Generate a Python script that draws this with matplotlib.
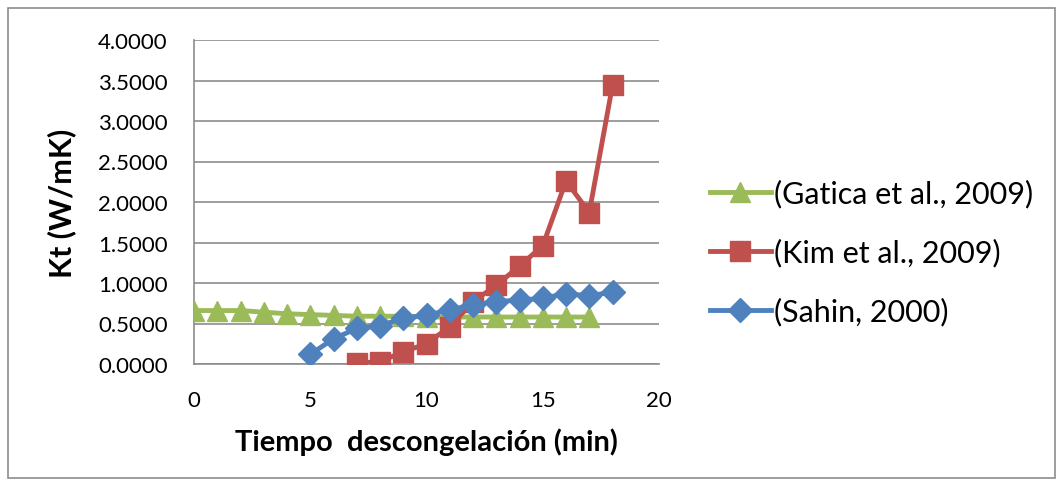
import matplotlib
matplotlib.use("Agg")
import matplotlib.pyplot as plt
from matplotlib.patches import Rectangle

# datos
t_gatica = [0, 1, 2, 3, 4, 5, 6, 7, 8, 9, 10, 11, 12, 13, 14, 15, 16, 17]
kt_gatica = [0.66, 0.66, 0.66, 0.64, 0.62, 0.61, 0.60, 0.59, 0.59, 0.59, 0.58,
             0.58, 0.58, 0.58, 0.58, 0.58, 0.58, 0.58]
t_kim = [7, 8, 9, 10, 11, 12, 13, 14, 15, 16, 17, 18]
kt_kim = [0.01, 0.03, 0.15, 0.25, 0.46, 0.77, 0.97, 1.21, 1.46, 2.26, 1.87, 3.44]
t_sahin = [5, 6, 7, 8, 9, 10, 11, 12, 13, 14, 15, 16, 17, 18]
kt_sahin = [0.12, 0.31, 0.44, 0.47, 0.57, 0.60, 0.67, 0.73, 0.77, 0.79, 0.81,
            0.87, 0.84, 0.89]

labels = ["(Gatica et al., 2009)", "(Kim et al., 2009)", "(Sahin, 2000)"]
x_ticks = [0, 5, 10, 15, 20]
y_ticks = [0.0, 0.5, 1.0, 1.5, 2.0, 2.5, 3.0, 3.5, 4.0]

plt.rcParams["font.family"] = ["Lato", "DejaVu Sans"]

fig = plt.figure(figsize=(10.64, 4.89), dpi=100)
# marco exterior del grafico
fig.patches.append(Rectangle((8 / 1064, 10 / 489), 1047 / 1064, 470 / 489,
                             transform=fig.transFigure, fill=False,
                             edgecolor="#8c8c8c", linewidth=1.2))

ax = fig.add_axes([194 / 1064, 124 / 489, 465 / 1064, 324 / 489])

ax.plot(t_gatica, kt_gatica, color="#9bbb59", linewidth=3.5, marker="^",
        markersize=14, label=labels[0], zorder=3)
ax.plot(t_kim, kt_kim, color="#c0504d", linewidth=3.5, marker="s",
        markersize=14, label=labels[1], zorder=4)
ax.plot(t_sahin, kt_sahin, color="#4f81bd", linewidth=3.5, marker="D",
        markersize=12, label=labels[2], zorder=5)

ax.set_xlim(0, 20)
ax.set_ylim(0, 4)
ax.set_xticks(x_ticks)
ax.set_yticks(y_ticks)
ax.set_yticklabels(["%.4f" % v for v in y_ticks])
ax.tick_params(length=0, labelsize=16)
ax.tick_params(axis="y", pad=19)
ax.tick_params(axis="x", pad=19)
ax.grid(axis="y", color="#8c8c8c", linewidth=1.2)
ax.set_axisbelow(True)
for s in ["top", "right"]:
    ax.spines[s].set_visible(False)
for s in ["left", "bottom"]:
    ax.spines[s].set_color("#8c8c8c")
    ax.spines[s].set_linewidth(1.2)

ax.set_xlabel("Tiempo  descongelación (min)", fontsize=21, fontweight="bold",
              labelpad=12)
ax.set_ylabel("Kt (W/mK)", fontsize=22, fontweight="bold", labelpad=16)

ax.legend(loc="center left", bbox_to_anchor=(1.05, 0.345), frameon=False,
          fontsize=22, handlelength=2.0, handletextpad=0.1, labelspacing=1.0)

fig.savefig("out.png", dpi=100)
